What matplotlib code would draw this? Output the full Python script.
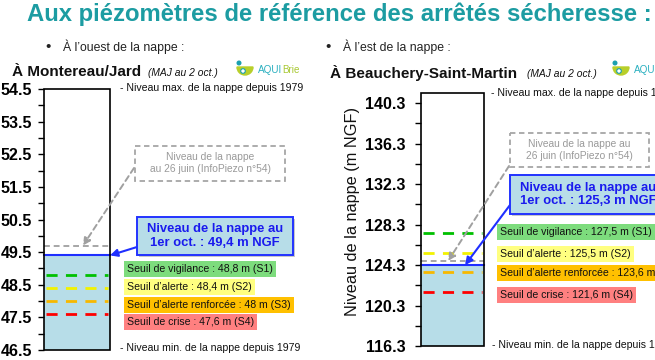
import matplotlib
matplotlib.use('Agg')
import matplotlib.pyplot as plt
from matplotlib.patches import Rectangle, Wedge, Circle
from matplotlib import font_manager as fm

available = {f.name for f in fm.fontManager.ttflist}
HAS_NARROW = 'Liberation Sans Narrow' in available
NARROW = 'Liberation Sans Narrow' if HAS_NARROW else 'Liberation Sans'
NS = 1.0 if HAS_NARROW else 0.84
SANS = 'Liberation Sans'

# ---------------- data ----------------
stations = ['Montereau/Jard', 'Beauchery-Saint-Martin']
bullets = ["À l’ouest de la nappe :", "À l’est de la nappe :"]
level_min = [46.5, 116.3]
level_max = [54.5, 141.3]
level_oct = [49.4, 124.3]
label_oct = [49.4, 125.3]
level_june = [49.7, 124.7]
seuil_s1 = [48.8, 127.5]
seuil_s2 = [48.4, 125.5]
seuil_s3 = [48.0, 123.6]
seuil_s4 = [47.6, 121.6]
ticks_left = [46.5, 47.5, 48.5, 49.5, 50.5, 51.5, 52.5, 53.5, 54.5]
ticks_right = [116.3, 120.3, 124.3, 128.3, 132.3, 136.3, 140.3]
minor_left = [47.0, 48.0, 49.0, 50.0, 51.0, 52.0, 53.0, 54.0]
minor_right = [118.3, 122.3, 126.3, 130.3, 134.3, 138.3]
seuil_names = ['Seuil de vigilance', 'Seuil d’alerte', 'Seuil d’alerte renforcée', 'Seuil de crise']
june_text = ['Niveau de la nappe\nau 26 juin (InfoPiezo n°54)', 'Niveau de la nappe au\n26 juin (InfoPiezo n°54)']

W, H = 655, 360
fig = plt.figure(figsize=(W / 100, H / 100), dpi=100)

def fmt(v):
    return f"{v:g}".replace('.', ',')

seuil_colors = ['#00c000', '#f2f200', '#f7b800', '#ff0000']
box_colors = ['#7ddc7d', '#ffff80', '#ffc000', '#ff8080']

# layout per panel (pixels)
panels = [
    dict(ax=(44, 89, 66, 261), ticks=ticks_left, minor=minor_left, pad=4.5,
         title_x=12, title_y=72, maj_x=148, logo_x=236,
         max_txt=(120, 88), min_txt=(120, 348),
         june_box=(135, 146, 150, 35), june_from=(134, 168), june_tip=0.59,
         blue_box=(137, 217, 156, 38), blue_from=(137, 247), blue_tip=1.0,
         seuil_x=127, seuil_y=[269, 287, 305, 322]),
    dict(ax=(421, 93, 63, 253), ticks=ticks_right, minor=minor_right, pad=7,
         title_x=330, title_y=73, maj_x=527, logo_x=612,
         max_txt=(491, 93), min_txt=(492, 345),
         june_box=(510, 133, 139, 34), june_from=(509, 166), june_tip=0.43,
         blue_box=(510, 175, 156, 39), blue_from=(510, 205), blue_tip=0.70,
         seuil_x=500, seuil_y=[232, 254, 273, 295]),
]

axes = []
for i, p in enumerate(panels):
    x, top, w, h = p['ax']
    ax = fig.add_axes([x / W, (H - top - h) / H, w / W, h / H])
    ax.set_xlim(0, 1)
    ax.set_ylim(level_min[i], level_max[i])
    for s in ax.spines.values():
        s.set_visible(False)
    ax.set_xticks([])
    ax.set_yticks(p['ticks'])
    ax.set_yticks(p['minor'], minor=True)
    ax.set_yticklabels([f"{t:.1f}" for t in p['ticks']])
    ax.tick_params(axis='y', which='both', direction='out', length=4, width=1, color='black')
    ax.tick_params(axis='y', which='major', pad=p['pad'], labelsize=11.5)
    for lab in ax.get_yticklabels():
        lab.set_fontfamily(SANS)
        lab.set_fontweight('bold')
    ax.patch.set_alpha(0)
    # water fill
    ax.bar(0.5, level_oct[i] - level_min[i], bottom=level_min[i], width=1.0,
           color='#b7dde8', edgecolor='none', zorder=1, clip_on=False)
    # thresholds
    for v, c in zip([seuil_s1[i], seuil_s2[i], seuil_s3[i], seuil_s4[i]], seuil_colors):
        ax.plot([0.03, 0.97], [v, v], color=c, lw=2, dashes=(4, 3), zorder=2, clip_on=False)
    # june level
    ax.plot([0, 1], [level_june[i]] * 2, color='#a6a6a6', lw=1.4, dashes=(3, 2), zorder=2, clip_on=False)
    # october level
    ax.plot([0, 1], [level_oct[i]] * 2, color='#1f2fff', lw=1.5, zorder=3, clip_on=False)
    # outline bar
    ax.bar(0.5, level_max[i] - level_min[i], bottom=level_min[i], width=1.0,
           facecolor='none', edgecolor='black', lw=1.2, zorder=4, clip_on=False)
    axes.append(ax)

ov = fig.add_axes([0, 0, 1, 1])
ov.set_xlim(0, W)
ov.set_ylim(H, 0)
ov.axis('off')
ov.patch.set_alpha(0)
ov.set_zorder(10)

ov.text(27, 14, "Aux piézomètres de référence des arrêtés sécheresse :", fontsize=17.2,
        fontweight='bold', color='#1c9ca2', family=SANS, va='center', ha='left')

for bx, txt in zip([45, 325], bullets):
    ov.text(bx, 47, "•", fontsize=11, color='#222222', family=SANS, va='center', ha='left')
    ov.text(bx + 18, 47, txt, fontsize=10.5 * NS, color='#222222', family=NARROW, va='center', ha='left')

for i, p in enumerate(panels):
    ax = axes[i]
    ov.text(p['title_x'], p['title_y'], "À " + stations[i], fontsize=11, fontweight='bold',
            family=SANS, va='center', ha='left', color='#111111')
    ov.text(p['maj_x'], p['title_y'] + 1, "(MAJ au 2 oct.)", fontsize=8.8 * NS, style='italic',
            family=NARROW, va='center', ha='left', color='#111111')
    # logo
    lx = p['logo_x']
    ov.add_patch(Circle((lx + 3, 63), 1.8, color='#1aa0b0'))
    ov.add_patch(Wedge((lx + 9, 67), 8, 0, 180, color='#b8cf2a'))
    ov.add_patch(Circle((lx + 7, 71), 2.3, facecolor='white', edgecolor='#1aa0b0', lw=0.8))
    t1 = ov.text(lx + 22, 70, "AQUI", fontsize=8.5 * NS, family=NARROW, color='#2ab0c0', va='center', ha='left')
    ov.annotate("Brie", xycoords=t1, xy=(1, 0.5), va='center', ha='left', fontsize=8.5 * NS,
                family=NARROW, color='#a8c832')

    ov.text(*p['max_txt'], "- Niveau max. de la nappe depuis 1979", fontsize=9 * NS, family=NARROW,
            va='center', ha='left', color='#111111')
    ov.text(*p['min_txt'], "- Niveau min. de la nappe depuis 1979", fontsize=9 * NS, family=NARROW,
            va='center', ha='left', color='#111111')

    # June box
    jx, jy, jw, jh = p['june_box']
    ov.add_patch(Rectangle((jx, jy), jw, jh, facecolor='white', edgecolor='#a6a6a6', lw=1.3,
                           linestyle=(0, (3, 2))))
    ov.text(jx + jw / 2, jy + jh / 2, june_text[i], fontsize=8.8 * NS, family=NARROW, color='#9a9a9a',
            va='center', ha='center', linespacing=1.25)
    ax.annotate('', xy=(p['june_tip'], level_june[i]), xycoords=ax.get_yaxis_transform(),
                xytext=(p['june_from'][0], H - p['june_from'][1]), textcoords='figure pixels',
                arrowprops=dict(arrowstyle='-|>', color='#a0a0a0', lw=1.4, linestyle=(0, (3, 2)),
                                shrinkA=0, shrinkB=0, mutation_scale=11),
                annotation_clip=False, zorder=6)

    # Blue box
    bx, by, bw, bh = p['blue_box']
    ov.add_patch(Rectangle((bx + 2, by + 2), bw, bh, facecolor='#c8c8c8', edgecolor='none', clip_on=False))
    ov.add_patch(Rectangle((bx, by), bw, bh, facecolor='#b7dde8', edgecolor='#2233ff', lw=1.4, clip_on=False))
    ov.text(bx + bw / 2, by + bh / 2, f"Niveau de la nappe au\n1er oct. : {fmt(label_oct[i])} m NGF",
            fontsize=9.4, fontweight='bold', family=SANS, color='#1a1aee', va='center', ha='center',
            linespacing=1.15)
    ax.annotate('', xy=(p['blue_tip'], level_oct[i]), xycoords=ax.get_yaxis_transform(),
                xytext=(p['blue_from'][0], H - p['blue_from'][1]), textcoords='figure pixels',
                arrowprops=dict(arrowstyle='-|>', color='#1f2fff', lw=1.5,
                                shrinkA=0, shrinkB=0, mutation_scale=11),
                annotation_clip=False, zorder=6)

    vals = [seuil_s1[i], seuil_s2[i], seuil_s3[i], seuil_s4[i]]
    for k, (name, v, bc, yy) in enumerate(zip(seuil_names, vals, box_colors, p['seuil_y'])):
        ov.text(p['seuil_x'], yy, f"{name} : {fmt(v)} m (S{k + 1})", fontsize=9 * NS, family=NARROW,
                color='#111111', va='center', ha='left',
                bbox=dict(boxstyle='square,pad=0.32', fc=bc, ec='none'))

fig.text(353 / W, 1 - 211 / H, "Niveau de la nappe (m NGF)", rotation=90, fontsize=11.7,
         family=SANS, va='center', ha='center', color='#111111')

fig.savefig('out.png', dpi=100)
